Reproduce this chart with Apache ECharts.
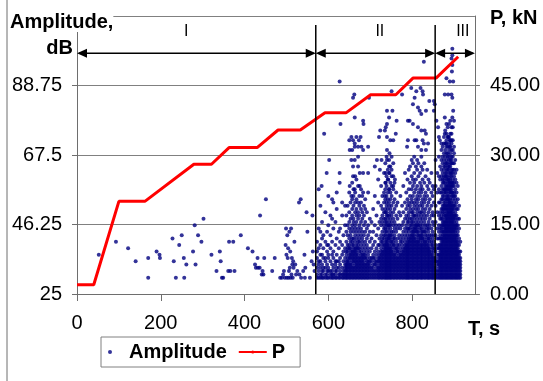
<!DOCTYPE html>
<html><head><meta charset="utf-8">
<script src="https://cdn.jsdelivr.net/npm/echarts@6/dist/echarts.min.js"></script>
<style>html,body{margin:0;padding:0;background:#fff}#c{width:543px;height:381px}</style>
</head><body><div id="c"></div>
<script>
// ---- tick labels ----
const xTicks = [0, 200, 400, 600, 800];
// ---- load curve P (kN) vs time T (s) ----
const pTime = [0, 40, 100, 162, 279, 321, 363, 430, 480, 533, 592, 642, 701, 761, 802, 857, 910];
const pLoad = [2, 2, 20, 20, 28, 28, 31.6, 31.6, 35.4, 35.4, 39.1, 39.1, 43, 43, 46.6, 46.6, 51.2];
// ---- phases ----
const phaseBounds = [0, 570, 855, 950];
const phaseNames = ['I', 'II', 'III'];
const phaseNameTime = [261, 723, 921];
// ---- amplitude hits, sparse (T, dB) ----
const earlyHits = [
[52,37],[93,41],[122,39],[140,35],[170,36],[170,30],[190,38],[197,37],[198,36],[228,42],[231,35],[236,30],[244,40],[250,43],[255,36],[256,30],[261,34],[277,38],[281,46],[283,34],[289,43],[297,41],[302,48],[321,37],[333,32],[341,38],[343,35],[346,30],[349,30],[361,32],[363,41],[366,32],[373,41],[376,32],[391,43],[408,39],[419,38],[425,34],[427,33],[431,36],[432,33],[436,33],[437,49],[441,31],[443,32],[445,31],[447,36],[451,54],[466,32],[472,36],
[485,30],[489,30],[492,31],[494,32],[496,30],[498,40],[499,45],[500,37],[501,30],[502,43],[503,36],[504,39],[505,30],[506,32],[507,44],[508,33],[509,38],[510,30],[511,45],[512,31],[513,36],[514,34],[515,30],[516,35],[517,33],[519,41],[521,34],[523,31],[526,32],[530,53],[531,31],[534,54],[535,30],[540,32],[543,37],[544,30],[545,33],[548,50],[550,44],[556,30],[560,35],[562,49],[563,38],[565,34],[567,32]
];
const upperHits = [
[590,74],[602,66],[627,90],[629,77],[584,58],[596,62],[627,62],[627,59],
[659,85],[662,86],[663,79],[683,78],[684,77],[697,85],
[650,72],[655,73],[659,72],[667,73],[673,72],[677,73],
[651,69],[657,69],[663,70],[671,70],[683,69],[663,71],[679,70],
[655,66],[663,66],[671,67],[659,64],[671,64],[675,62],[683,62],[659,61],[667,60],[651,58],[663,57],[675,58],[683,56],[655,55],
[695,70],[695,62],[711,64],[716,66],[723,63],[727,66],
[740,81],[753,81],[745,79],[740,77],[737,76],[735,75],[724,75],[721,73],[740,73],[748,72],[761,74],[755,72],[763,78],[751,87],[776,86],
[740,69],[746,68],[751,67],[740,66],[745,64],[755,65],[746,62],[737,62],[743,60],[751,61],[759,60],[737,59],[745,57],[755,58],[735,55],
[798,88],[810,87],[820,88],[825,87],[826,86],[806,85],[841,84],[852,84],[852,81],[828,96],
[802,83],[814,82],[818,81],[822,80],[833,81],
[794,78],[790,78],[802,77],[814,76],[822,75],[830,75],[833,74],[825,72],[810,72],[806,72],[814,70],[822,69],[833,69],[828,71],[838,71],[788,70],[790,72],
[854,83],[858,78],[862,76],[864,73],[866,72],[870,71],
[878,79],[882,77],[878,74],[886,73],[890,72],[894,72],[898,81],[896,79],[900,78],[894,76],[882,71],[890,70],
[878,86],[886,86],[894,86],[896,85],[882,91],[890,90],[898,90],
[896,100],[896,98],[894,97],[896,95],[895,93]
];
// ---- amplitude hits, dense columns: [T, [dB ...]] ----
const hitColumns = [
[573,[30,31,33,36,38,41]],
[577,[30,32,34,35,39,45,57]],
[581,[30,31,33,35,37,40,44,52]],
[585,[30,31,32,34,37,42,47]],
[588,[30,32,33,36,39,43]],
[593,[30,31,33,35,36,41,50]],
[597,[30,31,32,34,38,40,44]],
[600,[30,32,33,36,37,40,46,55]],
[605,[30,31,32,35,39,43,49]],
[609,[30,31,32,34,37,41,48,54]],
[612,[30,31,33,36,38,45,53]],
[617,[30,31,32,34,35,40,47]],
[620,[30,32,33,35,37,42,51,56]],
[625,[30,31,33,35,39,44]],
[628,[30,31,32,34,36,41,45]],
[633,[30,31,33,37,40,49,53]],
[636,[30,31,32,35,38,43]],
[640,[30,31,32,33,34,36,39,46,52]],
[643,[30,31,32,33,34,35,37,38,41,44,49]],
[646,[30,31,32,33,34,35,36,38,39,40,43,46,52]],
[650,[30,31,32,33,34,35,36,37,39,40,42,45,47,50,56]],
[653,[30,31,32,33,34,36,37,38,39,41,43,44,48,53]],
[657,[30,31,32,33,34,35,36,37,38,40,41,42,45,46,49,51,54,59]],
[660,[30,31,32,33,35,36,37,38,39,40,42,44,47,48,52,55,57]],
[664,[30,31,32,33,34,35,36,37,38,39,41,43,45,46,50,53,56,61]],
[667,[30,31,32,33,34,35,36,37,38,39,40,42,44,47,49,51,54]],
[671,[30,31,32,33,34,35,36,37,39,40,41,43,45,48,50,53,58]],
[674,[30,31,32,33,34,35,36,38,39,41,42,44,46,49,52,55]],
[678,[30,31,32,33,34,35,36,37,38,40,43,45,47,51,53,57]],
[681,[30,31,32,33,34,35,36,37,39,41,42,44,48,50,55]],
[685,[30,31,32,33,34,35,36,37,38,40,43,46,49,52]],
[688,[30,31,32,33,34,36,37,39,41,44,47,51,54]],
[692,[30,31,32,33,34,35,36,38,40,42,45,50]],
[695,[30,31,32,33,34,35,37,39,43,46,56]],
[699,[30,31,32,33,34,35,36,38,41,44,48]],
[703,[30,31,32,33,35,36,39,42,47]],
[707,[30,31,32,33,34,36,37,40,44,51]],
[711,[30,31,32,34,35,36,38,41,46,55]],
[715,[30,31,32,33,34,35,37,39,43,49]],
[719,[30,31,32,33,35,36,38,40,45,53,60]],
[722,[30,31,32,33,34,35,36,37,40,42,47]],
[726,[30,31,32,33,34,35,36,37,38,39,41,43,46,48,52,58]],
[729,[30,31,32,33,34,35,36,37,38,40,41,42,44,47,49,51,55]],
[733,[30,31,32,33,34,35,36,37,38,39,40,42,43,45,46,48,50,53,56,62]],
[736,[30,31,32,33,34,35,36,37,38,39,40,41,43,44,45,47,48,50,51,54,57,59,65]],
[739,[30,31,32,33,34,35,36,37,38,39,40,41,42,44,46,47,49,50,52,53,55,58,61,67]],
[742,[30,31,32,33,34,35,36,37,38,39,40,41,42,43,45,46,48,49,51,54,56,60,63]],
[745,[30,31,32,33,34,35,36,37,38,39,40,42,43,44,46,47,49,52,53,57,62,66]],
[748,[30,31,32,33,34,35,36,37,38,39,41,42,43,45,46,48,50,51,54,56,59,64]],
[751,[30,31,32,33,34,35,36,37,38,39,40,41,43,44,47,49,52,55,58,63]],
[755,[30,31,32,33,34,35,36,37,38,40,41,42,44,46,48,50,53,57,61]],
[758,[30,31,32,33,34,35,36,37,39,40,42,43,45,47,51,54,59]],
[762,[30,31,32,33,34,35,36,37,38,39,41,44,46,49,52,56]],
[765,[30,31,32,33,34,35,36,38,39,40,42,45,48,53]],
[769,[30,31,32,33,34,35,36,37,38,40,43,46,50]],
[772,[30,31,32,33,34,35,36,37,39,41,42,45,49,55]],
[776,[30,31,32,33,34,35,36,37,38,40,41,43,46,52]],
[779,[30,31,32,33,34,35,36,37,38,39,42,44,47,50,58]],
[783,[30,31,32,33,34,35,36,37,38,39,40,41,43,45,48,53,62]],
[786,[30,31,32,33,34,35,36,37,38,39,40,42,44,46,49,51,56]],
[789,[30,31,32,33,34,35,36,37,38,39,40,41,43,45,47,48,52,54,60]],
[792,[30,31,32,33,34,35,36,37,38,39,40,41,42,44,45,47,49,50,53,57,63]],
[795,[30,31,32,33,34,35,36,37,38,39,40,41,42,43,45,46,48,51,52,55,59,64]],
[799,[30,31,32,33,34,35,36,37,38,39,40,41,42,43,44,46,47,48,50,53,54,57,61,66]],
[802,[30,31,32,33,34,35,36,37,38,39,40,41,42,43,44,45,47,49,50,51,55,58,60,65]],
[805,[30,31,32,33,34,35,36,37,38,39,40,41,42,43,44,45,46,48,49,52,53,56,59,62,67]],
[809,[30,31,32,33,34,35,36,37,38,39,40,41,42,44,45,46,47,49,51,54,57,60,64]],
[812,[30,31,32,33,34,35,36,37,38,39,40,41,43,44,45,46,48,50,52,53,55,58,63,66]],
[815,[30,31,32,33,34,35,36,37,38,39,40,41,42,43,44,46,47,49,51,54,56,61,65]],
[819,[30,31,32,33,34,35,36,37,38,39,40,41,42,43,45,46,48,50,52,55,57,59,62]],
[822,[30,31,32,33,34,35,36,37,38,39,40,42,43,44,45,47,49,50,53,56,58,64,67]],
[825,[30,31,32,33,34,35,36,37,38,39,40,41,42,43,44,46,48,51,52,54,57,60,63]],
[829,[30,31,32,33,34,35,36,37,38,39,40,41,42,44,45,47,49,50,53,55,59,65]],
[832,[30,31,32,33,34,35,36,37,38,39,40,41,43,44,46,48,51,54,56,61]],
[836,[30,31,32,33,34,35,36,37,38,39,40,41,42,43,45,46,49,52,55,58,63]],
[839,[30,31,32,33,34,35,36,37,38,39,40,42,44,45,47,50,53,57,60]],
[842,[30,31,32,33,34,35,36,37,38,39,41,42,43,46,48,51,54,59]],
[846,[30,31,32,33,34,35,36,37,38,40,41,43,45,49,52,56,62]],
[849,[30,31,32,33,34,35,36,37,39,40,42,44,47,50,55,58]],
[852,[30,31,32,33,34,35,36,38,39,41,43,46,49,53,57]],
[856,[30,31,32,33,35,36,38,40,43,47,52,58,66]],
[860,[30,31,32,34,35,37,39,42,45,50,56,62]],
[864,[30,31,32,33,34,35,36,37,39,40,42,44,46,49,53,57,61,67]],
[867,[30,31,32,33,34,35,36,37,38,39,40,42,43,45,48,50,53,56,60,64]],
[870,[30,31,32,33,34,35,36,37,38,39,40,41,42,44,45,46,48,49,51,54,56,58,61,63,66,69]],
[873,[30,31,32,33,34,35,36,37,38,39,40,41,42,43,44,46,47,48,50,51,52,54,55,57,59,60,62,65,67,70]],
[876,[30,31,32,33,34,35,36,37,38,39,40,41,42,43,44,45,46,47,49,50,51,52,53,55,56,57,59,60,61,63,64,66,68,71,73]],
[879,[30,31,32,33,34,35,36,37,38,39,40,41,42,43,44,45,46,47,48,49,51,52,53,54,56,57,58,59,61,62,64,65,67,69,71,75]],
[882,[30,31,32,33,34,35,36,37,38,39,40,41,42,43,44,45,46,47,48,49,50,51,52,54,55,56,57,58,60,61,62,63,65,66,68,70,72,74]],
[885,[30,31,32,33,34,35,36,37,38,39,40,41,42,43,44,45,46,47,48,49,50,51,52,53,54,55,57,58,59,60,61,63,64,65,67,68,70,73,76]],
[888,[30,31,32,33,34,35,36,37,38,39,40,41,42,43,44,45,46,47,48,49,50,51,52,53,54,55,56,57,58,59,60,62,63,64,66,67,69,71,73,77]],
[891,[30,31,32,33,34,35,36,37,38,39,40,41,42,43,44,45,46,47,48,49,50,51,52,53,54,56,57,58,59,60,61,62,64,65,66,68,70,72,74,78]],
[894,[30,31,32,33,34,35,36,37,38,39,40,41,42,43,44,45,46,47,48,49,50,51,52,53,55,56,57,58,59,61,62,63,65,66,67,69,71,74]],
[897,[30,31,32,33,34,35,36,37,38,39,40,41,42,43,44,45,46,47,48,49,50,51,52,54,55,56,58,59,60,62,63,65,67,69,72,76]],
[900,[30,31,32,33,34,35,36,37,38,39,40,41,42,43,44,45,46,47,48,49,51,52,53,55,56,58,59,61,63,65,68,70]],
[903,[30,31,32,33,34,35,36,37,38,39,40,41,42,43,44,45,46,48,49,50,52,54,55,57,60,62,66]],
[906,[30,31,32,33,34,35,36,37,38,39,40,41,42,43,45,46,47,49,51,53,56,59,63]],
[909,[30,31,32,33,34,35,36,37,38,39,40,41,43,44,46,48,51,54,58]],
[912,[30,31,32,33,34,35,36,37,38,40,42,45,48,52]],
[915,[30,31,32,33,34,35,36,38,41]]
];

const FONT = '"Liberation Sans", Arial, sans-serif';
const ampData = earlyHits.concat(upperHits);
hitColumns.forEach(([t, list]) => list.forEach(a => ampData.push([t, a])));
const pData = pTime.map((t, i) => [t, pLoad[i]]);

const chart = echarts.init(document.getElementById('c'), null, {renderer: 'canvas'});
const axisGrey = '#6e6e6e';
chart.setOption({
  animation: false,
  backgroundColor: '#fff',
  grid: {left: 77, right: 68, top: 16, bottom: 87, containLabel: false},
  xAxis: {
    type: 'value', min: 0, max: 950, interval: 200,
    axisLine: {show: true, onZero: false, lineStyle: {color: axisGrey, width: 1}},
    axisTick: {show: true, length: 7, lineStyle: {color: axisGrey}, customValues: xTicks},
    axisLabel: {margin: 19, fontSize: 20, color: '#000', fontFamily: FONT, customValues: xTicks},
    splitLine: {show: false}
  },
  yAxis: [
    {type: 'value', min: 25, max: 110, interval: 21.25, position: 'left',
     axisLine: {show: true, onZero: false, lineStyle: {color: axisGrey}},
     axisTick: {show: true, length: 5, lineStyle: {color: axisGrey}},
     axisLabel: {margin: 15, fontSize: 20, color: '#000', fontFamily: FONT, showMaxLabel: false},
     splitLine: {show: true, lineStyle: {color: '#808080', width: 1}}},
    {type: 'value', min: 0, max: 60, interval: 15, position: 'right',
     axisLine: {show: true, onZero: false, lineStyle: {color: axisGrey}},
     axisTick: {show: true, length: 5, lineStyle: {color: axisGrey}},
     axisLabel: {margin: 15, fontSize: 20, color: '#000', fontFamily: FONT, showMaxLabel: false,
                 formatter: v => v.toFixed(2)},
     splitLine: {show: false}}
  ],
  legend: {
    left: 101, top: 337, padding: [5, 15, 5, 7], itemGap: 11, itemWidth: 28, itemHeight: 4,
    borderColor: '#808080', borderWidth: 1, selectedMode: false,
    textStyle: {fontSize: 20, fontWeight: 'bold', color: '#000', fontFamily: FONT},
    data: [{name: 'Amplitude', icon: 'circle'}, {name: 'P'}]
  },
  series: [
    {name: 'Amplitude', type: 'scatter', xAxisIndex: 0, yAxisIndex: 0, data: ampData,
     symbol: 'circle', symbolSize: 4, itemStyle: {color: '#000080'}, silent: true, z: 2,
     progressive: 0},
    {name: 'P', type: 'line', xAxisIndex: 0, yAxisIndex: 1, data: pData, symbol: 'none',
     showSymbol: false, lineStyle: {color: '#ff0000', width: 3}, itemStyle: {color: '#ff0000'},
     silent: true, z: 3}
  ]
});

// ---- annotations placed through the axes ----
const arrowLevel = 98.6, dividerTop = 107.25, nameLevel = 105.2;
const toPx = (t, a) => chart.convertToPixel({xAxisIndex: 0, yAxisIndex: 0}, [t, a]);
const g = [];
const yArrow = toPx(0, arrowLevel)[1];
const yBottom = toPx(0, 25)[1];
const yTopDiv = toPx(0, dividerTop)[1];
phaseBounds.slice(1, -1).forEach(t => {
  const x = toPx(t, 25)[0];
  g.push({type: 'line', z: 100, shape: {x1: x, y1: yTopDiv, x2: x, y2: yBottom},
          style: {stroke: '#000', lineWidth: 1.5}});
});
const headL = 10, headH = 4.5;
for (let i = 0; i < phaseNames.length; i++) {
  const x0 = toPx(phaseBounds[i], arrowLevel)[0];
  const x1 = toPx(phaseBounds[i + 1], arrowLevel)[0];
  g.push({type: 'line', z: 100, shape: {x1: x0 + 2, y1: yArrow, x2: x1 - 2, y2: yArrow},
          style: {stroke: '#000', lineWidth: 1.5}});
  g.push({type: 'polygon', z: 100, shape: {points: [[x0, yArrow], [x0 + headL, yArrow - headH], [x0 + headL, yArrow + headH]]},
          style: {fill: '#000'}});
  g.push({type: 'polygon', z: 100, shape: {points: [[x1, yArrow], [x1 - headL, yArrow - headH], [x1 - headL, yArrow + headH]]},
          style: {fill: '#000'}});
  const lp = toPx(phaseNameTime[i], nameLevel);
  g.push({type: 'text', z: 100, x: lp[0], y: lp[1],
          style: {text: phaseNames[i], font: '16px ' + FONT, fill: '#000', align: 'center', verticalAlign: 'middle'}});
}
// axis titles
g.push({type: 'text', z: 101, x: 10, y: 22,
        style: {text: 'Amplitude,', font: 'bold 20px ' + FONT, fill: '#000', align: 'left', verticalAlign: 'middle', backgroundColor: '#fff'}});
g.push({type: 'text', z: 101, x: 73, y: 48,
        style: {text: 'dB', font: 'bold 20px ' + FONT, fill: '#000', align: 'right', verticalAlign: 'middle'}});
g.push({type: 'text', z: 101, x: 490, y: 18,
        style: {text: 'P, kN', font: 'bold 20px ' + FONT, fill: '#000', align: 'left', verticalAlign: 'middle'}});
g.push({type: 'text', z: 101, x: 468, y: 329,
        style: {text: 'T, s', font: 'bold 20px ' + FONT, fill: '#000', align: 'left', verticalAlign: 'middle'}});
// outer frame edge
g.push({type: 'line', z: 101, shape: {x1: 7, y1: 0, x2: 7, y2: 381}, style: {stroke: '#6e6e6e', lineWidth: 1}});
chart.setOption({graphic: {elements: g}});
</script>
</body></html>
